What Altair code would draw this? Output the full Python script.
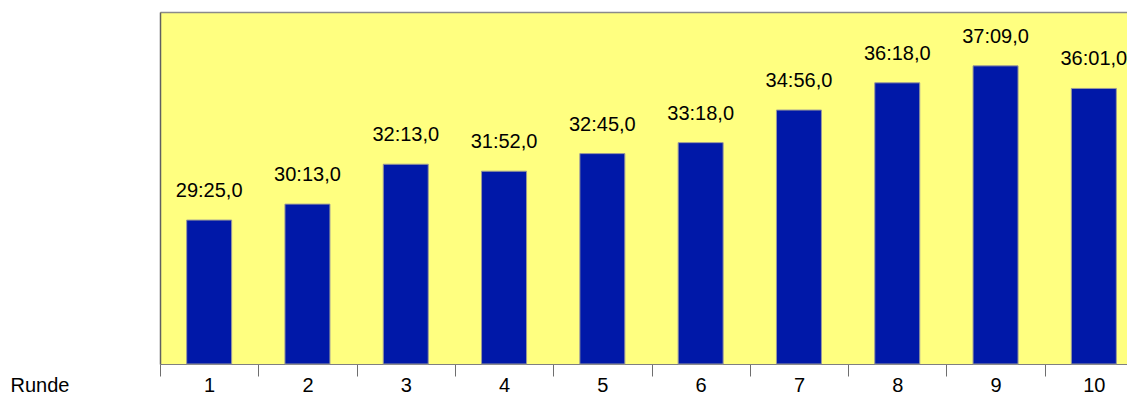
import altair as alt
import pandas as pd

rounds = ["1", "2", "3", "4", "5", "6", "7", "8", "9", "10"]
times = ["29:25,0", "30:13,0", "32:13,0", "31:52,0", "32:45,0",
         "33:18,0", "34:56,0", "36:18,0", "37:09,0", "36:01,0"]


def to_sec(t):
    mm, rest = t.split(":")
    ss = rest.split(",")[0]
    return int(mm) * 60 + int(ss)


df = pd.DataFrame({
    "Runde": rounds,
    "idx": list(range(len(rounds))),
    "sec": [to_sec(t) for t in times],
    "label": times,
})

FONT = "Liberation Sans"
YMIN, YMAX = 1332, 2391
PLOT_W = 967          # visible plot width (the last band runs past the edge)
PLOT_H = 352
STEP = 98.3           # pixel width of one category
XMAX = PLOT_W / STEP  # categories visible across the plot

xscale = alt.Scale(domain=[0, XMAX], nice=False, zero=False, padding=0)

x = alt.X(
    "center:Q",
    scale=xscale,
    axis=alt.Axis(
        title="Runde",
        values=list(range(len(rounds))),
        labelExpr="datum.value + 1",
        labelOffset=STEP / 2,
        labelFlush=False,
        labelOverlap=False,
        grid=False,
        tickSize=12,
        tickColor="#6e6e6e",
        domainColor="#808080",
        labelFont=FONT,
        labelFontSize=20,
        labelColor="black",
        labelPadding=15,
        labelBaseline="alphabetic",
        titleX=-150,
        titleY=27,
        titleAlign="left",
        titleBaseline="alphabetic",
        titleAngle=0,
        titleFont=FONT,
        titleFontSize=20,
        titleFontWeight="normal",
        titleColor="black",
    ),
)
x_top = alt.X(
    "center:Q",
    scale=xscale,
    axis=alt.Axis(orient="top", labels=False, ticks=False, grid=False,
                  title=None, domainColor="#8a8a8a", domainWidth=1.5),
)
y = alt.Y(
    "sec:Q",
    scale=alt.Scale(domain=[YMIN, YMAX], zero=False, nice=False, padding=0),
    axis=alt.Axis(labels=False, ticks=False, grid=False, title=None,
                  domainColor="#606060", domainWidth=1.5),
)

base = alt.Chart(df).transform_calculate(center="datum.idx + 0.5")

bars = base.mark_bar(
    width=45,
    color="#0018A8",
    stroke="#9a9a9a",
    strokeWidth=1,
).encode(x=x, y=y, y2=alt.datum(YMIN))

text = base.mark_text(
    baseline="alphabetic", dy=-23, fontSize=20, font=FONT, color="black"
).encode(x=x_top, y=y, text="label")

chart = (bars + text).resolve_axis(x="independent").properties(
    width=PLOT_W,
    height=PLOT_H,
    autosize=alt.AutoSizeParams(type="none"),
    padding={"left": 152, "top": 4, "right": 0, "bottom": 32},
    background="white",
).configure_view(fill="#FFFF80", stroke=None)

chart.save("out.html", embed_options={"renderer": "svg", "actions": False})
